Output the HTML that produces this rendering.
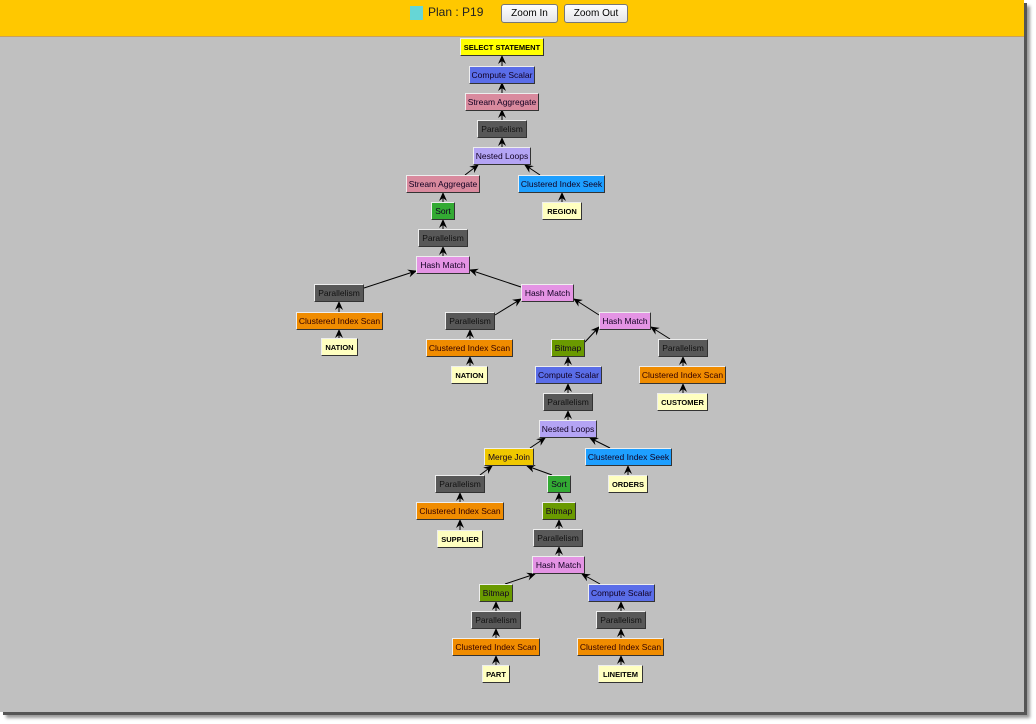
<!DOCTYPE html>
<html><head><meta charset="utf-8"><style>
*{margin:0;padding:0;box-sizing:border-box}
body{width:1036px;height:724px;background:#fff;position:relative;overflow:hidden;font-family:"Liberation Sans",sans-serif}
#frame{position:absolute;left:0;top:0;width:1024px;height:712px;background:#c0c0c0;box-shadow:3px 3px 0 #555,6px 6px 3px #999}
#hdr{position:absolute;left:0;top:0;width:1024px;height:37px;background:#ffc800;border-bottom:1px solid #c8a060}
.btn{position:absolute;top:4px;height:19px;border:1px solid #777;border-radius:3px;background:linear-gradient(#fff,#e4e4e8);font-size:10px;text-align:center;line-height:17px;color:#000}
.n{position:absolute;height:18px;font-size:8.5px;text-align:center;line-height:17px;color:#102;border:1px solid;border-color:#eee #333 #333 #eee;white-space:nowrap;overflow:hidden}
.y{background:#ffff00;font-weight:bold;color:#000;font-size:7.5px}
.c{background:#5a6de8}
.s{background:#d98a9e}
.p{background:#585858;color:#111}
.l{background:#b4a4f4}
.k{background:#1e9fff}
.g{background:#33aa33}
.t{background:#ffffc0;font-weight:bold;color:#000;font-size:7.5px}
.h{background:#e494e4}
.o{background:#f08c00;color:#300}
.b{background:#6a9a00}
.m{background:#f0c800}
svg{position:absolute;left:0;top:0}
</style></head><body>
<div id="frame"></div>
<div id="hdr">
<div style="position:absolute;left:410px;top:6px;width:13px;height:14px;background:#66d6d6"></div>
<div style="position:absolute;left:428px;top:5px;font-size:12px;color:#222">Plan : P19</div>
<div class="btn" style="left:501px;width:57px">Zoom In</div>
<div class="btn" style="left:564px;width:64px">Zoom Out</div>
</div>
<svg width="1036" height="724">
<defs><marker id="a" markerWidth="9" markerHeight="8" refX="8" refY="4" orient="auto" markerUnits="userSpaceOnUse"><path d="M0,0 L9,4 L0,8 L3,4z" fill="#000"/></marker></defs>
<g stroke="#000" stroke-width="1" marker-end="url(#a)">
<line x1="502" y1="66" x2="502" y2="56"/>
<line x1="502" y1="93" x2="502" y2="83"/>
<line x1="502" y1="120" x2="502" y2="110"/>
<line x1="502" y1="147" x2="502" y2="138"/>
<line x1="465" y1="175" x2="478" y2="165"/>
<line x1="540" y1="175" x2="525" y2="165"/>
<line x1="443" y1="202" x2="443" y2="193"/>
<line x1="562" y1="202" x2="562" y2="193"/>
<line x1="443" y1="229" x2="443" y2="220"/>
<line x1="443" y1="256" x2="443" y2="247"/>
<line x1="364" y1="288" x2="416" y2="271"/>
<line x1="521" y1="287" x2="470" y2="270"/>
<line x1="339" y1="312" x2="339" y2="302"/>
<line x1="339" y1="338" x2="339" y2="330"/>
<line x1="495" y1="315" x2="521" y2="299"/>
<line x1="599" y1="315" x2="574" y2="299"/>
<line x1="470" y1="339" x2="470" y2="330"/>
<line x1="470" y1="366" x2="470" y2="357"/>
<line x1="585" y1="342" x2="599" y2="327"/>
<line x1="670" y1="339" x2="651" y2="327"/>
<line x1="568" y1="366" x2="568" y2="357"/>
<line x1="683" y1="366" x2="683" y2="357"/>
<line x1="683" y1="393" x2="683" y2="384"/>
<line x1="568" y1="393" x2="568" y2="384"/>
<line x1="568" y1="420" x2="568" y2="411"/>
<line x1="530" y1="448" x2="545" y2="438"/>
<line x1="610" y1="448" x2="590" y2="438"/>
<line x1="628" y1="475" x2="628" y2="466"/>
<line x1="480" y1="475" x2="492" y2="466"/>
<line x1="552" y1="475" x2="527" y2="466"/>
<line x1="460" y1="502" x2="460" y2="493"/>
<line x1="460" y1="530" x2="460" y2="520"/>
<line x1="559" y1="502" x2="559" y2="493"/>
<line x1="559" y1="529" x2="559" y2="520"/>
<line x1="559" y1="556" x2="559" y2="547"/>
<line x1="505" y1="584" x2="535" y2="574"/>
<line x1="600" y1="584" x2="582" y2="574"/>
<line x1="496" y1="611" x2="496" y2="602"/>
<line x1="496" y1="638" x2="496" y2="629"/>
<line x1="496" y1="665" x2="496" y2="656"/>
<line x1="621" y1="611" x2="621" y2="602"/>
<line x1="621" y1="638" x2="621" y2="629"/>
<line x1="621" y1="665" x2="621" y2="656"/>
</g></svg>
<div class="n y" style="left:460px;top:38px;width:84px">SELECT STATEMENT</div>
<div class="n c" style="left:469px;top:66px;width:66px">Compute Scalar</div>
<div class="n s" style="left:465px;top:93px;width:74px">Stream Aggregate</div>
<div class="n p" style="left:477px;top:120px;width:50px">Parallelism</div>
<div class="n l" style="left:473px;top:147px;width:58px">Nested Loops</div>
<div class="n s" style="left:406px;top:175px;width:74px">Stream Aggregate</div>
<div class="n k" style="left:518px;top:175px;width:87px">Clustered Index Seek</div>
<div class="n g" style="left:431px;top:202px;width:24px">Sort</div>
<div class="n t" style="left:542px;top:202px;width:40px">REGION</div>
<div class="n p" style="left:418px;top:229px;width:50px">Parallelism</div>
<div class="n h" style="left:416px;top:256px;width:54px">Hash Match</div>
<div class="n p" style="left:314px;top:284px;width:50px">Parallelism</div>
<div class="n h" style="left:521px;top:284px;width:53px">Hash Match</div>
<div class="n o" style="left:296px;top:312px;width:87px">Clustered Index Scan</div>
<div class="n p" style="left:445px;top:312px;width:50px">Parallelism</div>
<div class="n h" style="left:599px;top:312px;width:52px">Hash Match</div>
<div class="n t" style="left:321px;top:338px;width:37px">NATION</div>
<div class="n o" style="left:426px;top:339px;width:87px">Clustered Index Scan</div>
<div class="n b" style="left:551px;top:339px;width:34px">Bitmap</div>
<div class="n p" style="left:658px;top:339px;width:50px">Parallelism</div>
<div class="n t" style="left:451px;top:366px;width:37px">NATION</div>
<div class="n c" style="left:535px;top:366px;width:67px">Compute Scalar</div>
<div class="n o" style="left:639px;top:366px;width:87px">Clustered Index Scan</div>
<div class="n p" style="left:543px;top:393px;width:50px">Parallelism</div>
<div class="n t" style="left:657px;top:393px;width:51px">CUSTOMER</div>
<div class="n l" style="left:539px;top:420px;width:58px">Nested Loops</div>
<div class="n m" style="left:484px;top:448px;width:50px">Merge Join</div>
<div class="n k" style="left:585px;top:448px;width:87px">Clustered Index Seek</div>
<div class="n p" style="left:435px;top:475px;width:50px">Parallelism</div>
<div class="n g" style="left:547px;top:475px;width:24px">Sort</div>
<div class="n t" style="left:608px;top:475px;width:40px">ORDERS</div>
<div class="n o" style="left:416px;top:502px;width:88px">Clustered Index Scan</div>
<div class="n b" style="left:542px;top:502px;width:34px">Bitmap</div>
<div class="n p" style="left:533px;top:529px;width:50px">Parallelism</div>
<div class="n t" style="left:437px;top:530px;width:46px">SUPPLIER</div>
<div class="n h" style="left:532px;top:556px;width:53px">Hash Match</div>
<div class="n b" style="left:479px;top:584px;width:34px">Bitmap</div>
<div class="n c" style="left:588px;top:584px;width:67px">Compute Scalar</div>
<div class="n p" style="left:471px;top:611px;width:50px">Parallelism</div>
<div class="n p" style="left:596px;top:611px;width:50px">Parallelism</div>
<div class="n o" style="left:452px;top:638px;width:88px">Clustered Index Scan</div>
<div class="n o" style="left:577px;top:638px;width:87px">Clustered Index Scan</div>
<div class="n t" style="left:482px;top:665px;width:28px">PART</div>
<div class="n t" style="left:598px;top:665px;width:45px">LINEITEM</div>
</body></html>
